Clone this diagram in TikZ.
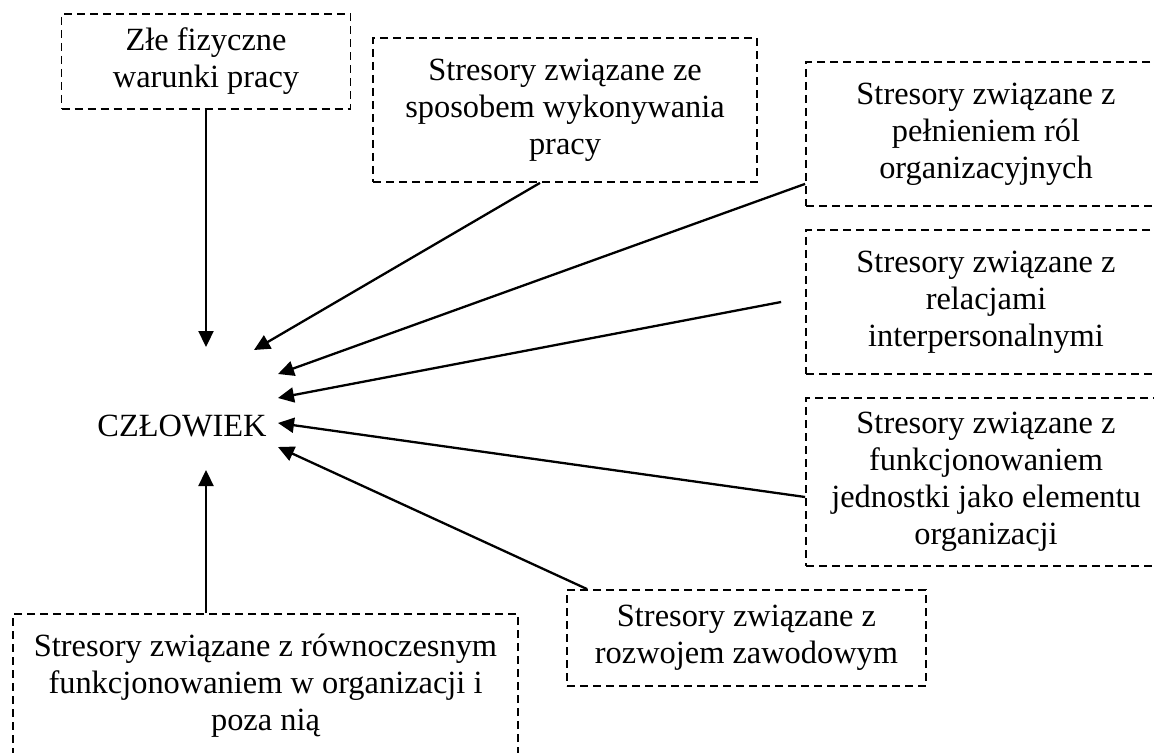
\documentclass[tikz,border=0pt]{standalone}
\usepackage{fontspec}
\setmainfont{Liberation Serif}
\usetikzlibrary{arrows.meta}

\begin{document}
\begin{tikzpicture}[x=0.5pt,y=-0.5pt,
    stres/.style={draw,dash pattern=on 4pt off 2.5pt,line width=0.9pt,
      align=center,inner sep=0pt,font=\fontsize{16.2}{18.5}\selectfont},
    arr/.style={-{Triangle[length=8pt,width=7.5pt]},line width=1.15pt}]
  \useasboundingbox (0,0) rectangle (1154,753);
  \node[font=\fontsize{16.2}{18.5}\selectfont] (czl) at (182,426.5) {CZŁOWIEK};
  % stressor boxes, clockwise from top left
  \node[stres,minimum width=144.5pt,minimum height=47.5pt] (fiz) at (206,61.5)
    {Złe fizyczne\\warunki pracy};
  \node[stres,minimum width=192pt,minimum height=72pt] (spos) at (565,110)
    {Stresory związane ze\\sposobem wykonywania\\pracy};
  \node[stres,minimum width=180pt,minimum height=72pt] (rol) at (986,134)
    {Stresory związane z\\pełnieniem ról\\organizacyjnych};
  \node[stres,minimum width=180pt,minimum height=72pt] (rel) at (986,302)
    {Stresory związane z\\relacjami\\interpersonalnymi};
  \node[stres,minimum width=180pt,minimum height=84pt] (jedn) at (986,482)
    {Stresory związane z\\funkcjonowaniem\\jednostki jako elementu\\organizacji};
  \node[stres,minimum width=179.5pt,minimum height=48pt] (rozw) at (746.5,638)
    {Stresory związane z\\rozwojem zawodowym};
  \node[stres,minimum width=252.5pt,minimum height=71.5pt] (rown) at (265.5,685.5)
    {Stresory związane z równoczesnym\\funkcjonowaniem w organizacji i\\poza nią};
  % arrows into CZŁOWIEK
  \draw[arr] (fiz.south) -- ([shift={(24,-79.5)}]czl.center);
  \draw[arr] ([xshift=-12.5pt]spos.south) -- ([shift={(72,-76.5)}]czl.center);
  \draw[arr] ([yshift=11.5pt]rol.south west) -- ([shift={(96,-52.5)}]czl.center);
  \coordinate (relend) at ([xshift=-12pt]rel.west);
  \draw[arr] (relend) -- ([shift={(96,-28.5)}]czl.center);
  \draw[arr] ([yshift=-7.5pt]jedn.west) -- ([shift={(96,-3.5)}]czl.center);
  \draw[arr] ([xshift=10.5pt]rozw.north west) -- ([shift={(96,20.5)}]czl.center);
  \draw[arr] ([xshift=-29.75pt]rown.north) -- ([shift={(24,43.5)}]czl.center);
\end{tikzpicture}
\end{document}
